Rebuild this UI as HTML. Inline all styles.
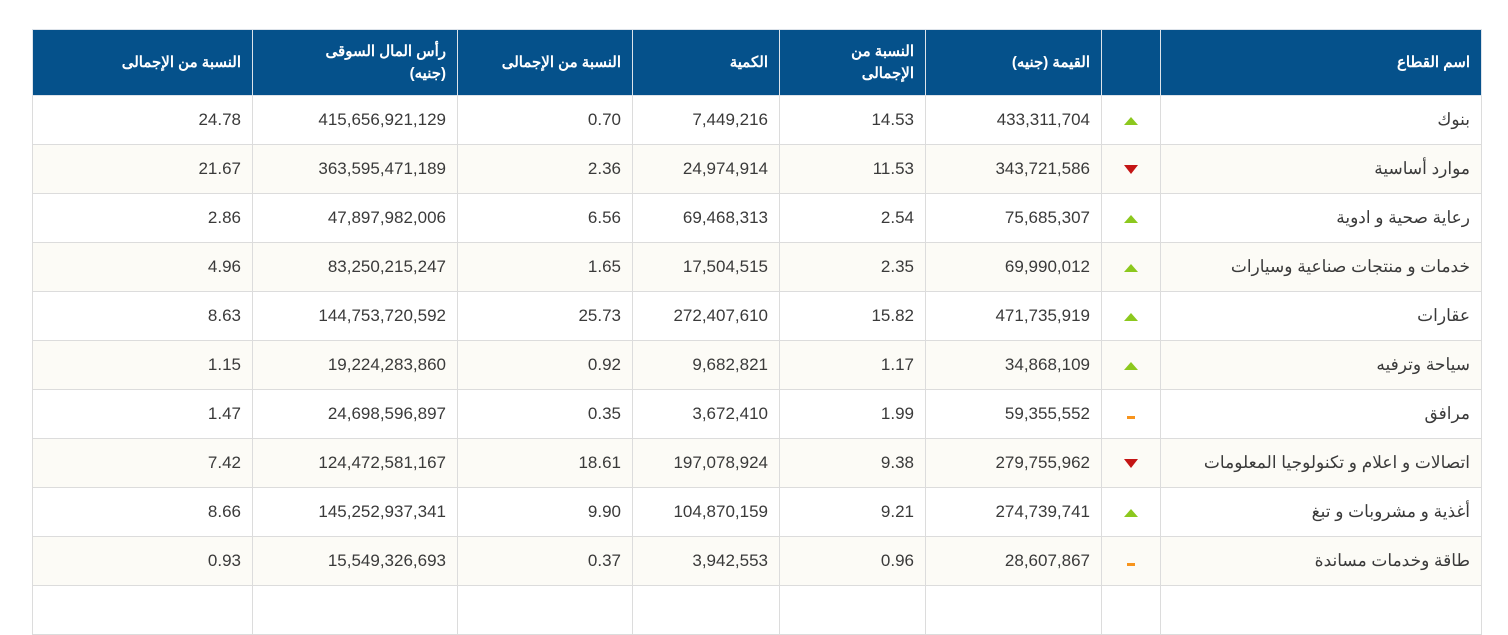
<!DOCTYPE html>
<html><head><meta charset="utf-8"><style>
body{margin:0;background:#fff;width:1508px;height:588px;overflow:hidden}
table{position:absolute;left:32px;top:29px;width:1449px;border-collapse:collapse;table-layout:fixed;font-family:"Liberation Sans","Noto Sans CJK SC",sans-serif}
th{background:#05518b;color:#fff;font-weight:bold;font-size:15px;text-align:right;padding:0 11px;height:65px;border:1px solid #dde3ea;line-height:22px}
td{height:48px;border:1px solid #dcdcdc;text-align:right;padding:0 11px;font-size:17px;color:#3a3a3a;white-space:nowrap}
tr:nth-child(odd) td{background:#fcfbf6}
td.a{text-align:center;padding:0}
.u{display:inline-block;width:0;height:0;border-left:7px solid transparent;border-right:7px solid transparent;border-bottom:8px solid #8cc81e}
.d{display:inline-block;width:0;height:0;border-left:7px solid transparent;border-right:7px solid transparent;border-top:9px solid #c41515}
.m{display:inline-block;width:8px;height:3px;background:#f7941d}
</style></head><body>
<table dir="rtl">
<colgroup><col style="width:321px"><col style="width:59px"><col style="width:176px"><col style="width:146px"><col style="width:147px"><col style="width:175px"><col style="width:205px"><col style="width:220px"></colgroup>
<tr><th>اسم القطاع</th><th></th><th>القيمة (جنيه)</th><th>النسبة من<br>الإجمالى</th><th>الكمية</th><th>النسبة من الإجمالى</th><th>رأس المال السوقى<br>(جنيه)</th><th>النسبة من الإجمالى</th></tr>
<tr><td>بنوك</td><td class="a"><span class="u"></span></td><td>433,311,704</td><td>14.53</td><td>7,449,216</td><td>0.70</td><td>415,656,921,129</td><td>24.78</td></tr>
<tr><td>موارد أساسية</td><td class="a"><span class="d"></span></td><td>343,721,586</td><td>11.53</td><td>24,974,914</td><td>2.36</td><td>363,595,471,189</td><td>21.67</td></tr>
<tr><td>رعاية صحية و ادوية</td><td class="a"><span class="u"></span></td><td>75,685,307</td><td>2.54</td><td>69,468,313</td><td>6.56</td><td>47,897,982,006</td><td>2.86</td></tr>
<tr><td>خدمات و منتجات صناعية وسيارات</td><td class="a"><span class="u"></span></td><td>69,990,012</td><td>2.35</td><td>17,504,515</td><td>1.65</td><td>83,250,215,247</td><td>4.96</td></tr>
<tr><td>عقارات</td><td class="a"><span class="u"></span></td><td>471,735,919</td><td>15.82</td><td>272,407,610</td><td>25.73</td><td>144,753,720,592</td><td>8.63</td></tr>
<tr><td>سياحة وترفيه</td><td class="a"><span class="u"></span></td><td>34,868,109</td><td>1.17</td><td>9,682,821</td><td>0.92</td><td>19,224,283,860</td><td>1.15</td></tr>
<tr><td>مرافق</td><td class="a"><span class="m"></span></td><td>59,355,552</td><td>1.99</td><td>3,672,410</td><td>0.35</td><td>24,698,596,897</td><td>1.47</td></tr>
<tr><td>اتصالات و اعلام و تكنولوجيا المعلومات</td><td class="a"><span class="d"></span></td><td>279,755,962</td><td>9.38</td><td>197,078,924</td><td>18.61</td><td>124,472,581,167</td><td>7.42</td></tr>
<tr><td>أغذية و مشروبات و تبغ</td><td class="a"><span class="u"></span></td><td>274,739,741</td><td>9.21</td><td>104,870,159</td><td>9.90</td><td>145,252,937,341</td><td>8.66</td></tr>
<tr><td>طاقة وخدمات مساندة</td><td class="a"><span class="m"></span></td><td>28,607,867</td><td>0.96</td><td>3,942,553</td><td>0.37</td><td>15,549,326,693</td><td>0.93</td></tr>
<tr><td>&nbsp;</td><td></td><td></td><td></td><td></td><td></td><td></td><td></td></tr>
</table>
</body></html>
